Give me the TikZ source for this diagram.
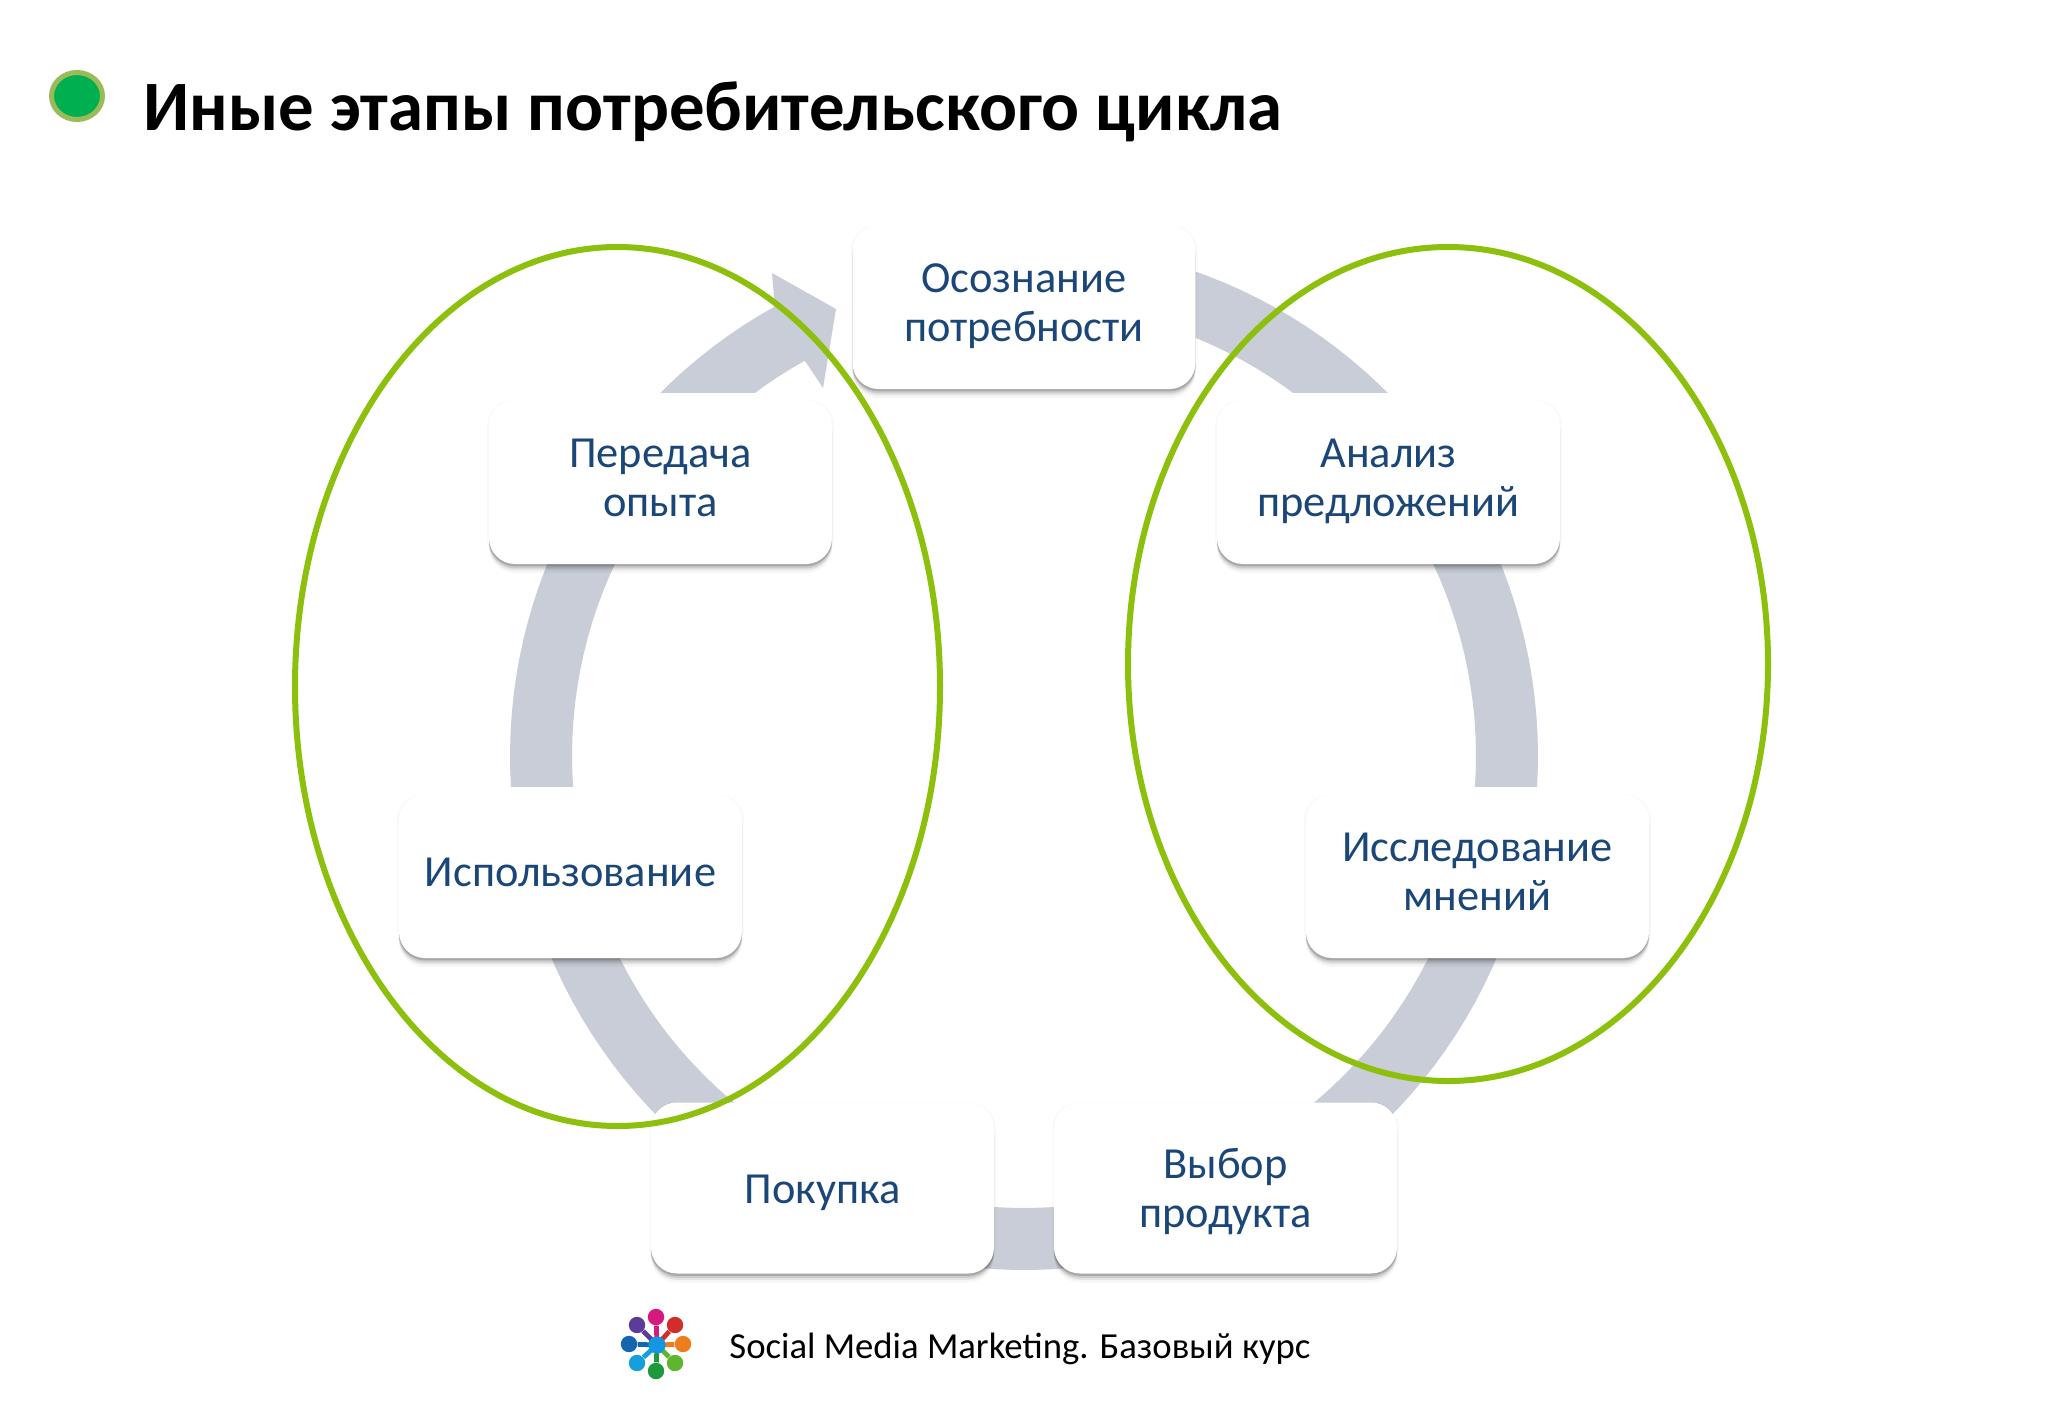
\documentclass[tikz,border=0pt]{standalone}
\usepackage{fontspec}
\setmainfont{Carlito}
\definecolor{ringc}{HTML}{C9CDD7}
\definecolor{txtc}{HTML}{1B4678}
\definecolor{ellc}{HTML}{8CC00C}
\definecolor{bulletfill}{HTML}{00B050}
\definecolor{bulletline}{HTML}{9BBB59}
\definecolor{hubc}{HTML}{1496E1}
\newcommand{\stagetext}[1]{\begin{tabular}{@{}c@{}}#1\end{tabular}}
\newcommand{\midtext}[1]{\raisebox{0pt}[\dimexpr\height+0.6pt\relax][\depth]{\stagetext{#1}}}
\newcommand{\lowtext}[1]{\raisebox{0pt}[\dimexpr\height+5.2pt\relax][\depth]{\stagetext{#1}}}
\tikzset{
  x=0.5pt,y=-0.5pt,
  stagebox/.style={rectangle,rounded corners=13pt,fill=white,minimum width=171.5pt,inner sep=0pt,
    text=txtc,font=\fontsize{22.2}{24.5}\selectfont,
    preaction={fill=black,opacity=.035,transform canvas={yshift=-4.5pt}},
    preaction={fill=black,opacity=.07,transform canvas={yshift=-3.2pt}},
    preaction={fill=black,opacity=.10,transform canvas={yshift=-2.2pt}},
    preaction={fill=black,opacity=.17,transform canvas={yshift=-1.2pt}},
    preaction={fill=black,opacity=.025,transform canvas={xshift=-1pt}},
    preaction={fill=black,opacity=.025,transform canvas={xshift=1pt}}},
  midbox/.style={stagebox,minimum height=82pt},
  lowbox/.style={stagebox,minimum height=85.5pt},
  halo/.style={fill=white,draw=none},
  ring/.style={fill=ringc,draw=none},
  loop/.style={draw=ellc,line width=3pt,fill=none},
  spoke/.style={line width=2.4pt},
  dot/.style={circle,minimum size=8.2pt,inner sep=0pt,fill=#1}
}
\begin{document}
\begin{tikzpicture}
\useasboundingbox (0,0) rectangle (2048,1418);
\fill[white] (0,0) rectangle (2048,1418);
% title
\draw[draw=bulletline,fill=bulletfill,line width=2.5pt]
  (77,96) ellipse [x radius=25.5,y radius=23.5];
\node[anchor=west,inner sep=0pt,font=\fontsize{35.4}{40}\selectfont\bfseries,text=black] (title) at (143,112) {Иные этапы потребительского цикла};
% ring
\path[ring] plot[domain=119:450,samples=160] ({1024+514*cos(\x)},{756-514*sin(\x)})
  -- plot[domain=450:119,samples=160] ({1024+452*cos(\x)},{756-452*sin(\x)})
  -- (823,388) -- (836,309) -- (772,273) -- cycle;
% white gaps above boxes
\fill[halo] (480,393) rectangle (840,402);
\fill[halo] (1208,393) rectangle (1567,402);
\fill[halo] (390,787) rectangle (750,796);
\fill[halo] (1298,787) rectangle (1656,796);
% boxes
\node[midbox] (aware) at (1024,307) {\midtext{Осознание\\потребности}};
\node[midbox] (offers) at (1388.5,482) {\midtext{Анализ\\предложений}};
\node[midbox] (opinions) at (1477.5,876) {\midtext{Исследование\\мнений}};
\node[lowbox] (choice) at (1225.5,1188) {\lowtext{Выбор\\продукта}};
\node[lowbox] (buy) at (822.5,1188) {\lowtext{Покупка}};
\node[midbox] (use) at (570.5,876) {\midtext{Использование}};
\node[midbox] (share) at (660.5,482) {\midtext{Передача\\опыта}};
% ellipses
\draw[loop] (617.5,686.5) ellipse [x radius=322.5,y radius=439.5];
\draw[loop] (1448,664) ellipse [x radius=320,y radius=417];
% logo
\coordinate (hub) at (657,1345);
\foreach \n/\px/\py/\c in {a/656/1317/D5197F,b/675/1325/D32C2C,c/683/1344/EE7D1E,d/675/1363/5FB52E,e/656/1371/1E9A3E,f/637/1363/159FDD,g/629/1344/1464B0,h/637/1325/5B3C96}{
  \definecolor{lc\n}{HTML}{\c}
  \node[dot=lc\n] (logo\n) at (\px,\py) {};
  \draw[spoke,draw=lc\n] (hub) -- (logo\n);
}
\node[dot=hubc,minimum size=8.6pt] (logohub) at (hub) {};
\node[anchor=west,inner sep=0pt,font=\fontsize{18.35}{20}\selectfont,text=black] (foot) at (729,1349) {Social Media Marketing. Базовый курс};
\end{tikzpicture}
\end{document}
